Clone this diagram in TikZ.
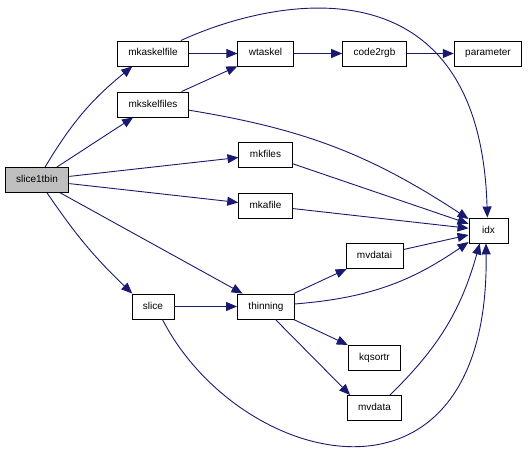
\documentclass[tikz,border=0pt]{standalone}
\usepackage{fontspec}
\setmainfont{Liberation Sans}
\usetikzlibrary{arrows.meta}
\definecolor{MidBlue}{rgb}{0.1,0.1,0.44}

\begin{document}
\begin{tikzpicture}[x=1pt,y=-1pt,
  fn/.style={draw,line width=0.9pt,fill=white,inner xsep=11pt,minimum width=39pt,
    minimum height=25pt,text height=7pt,text depth=2pt,font=\fontsize{10}{12}\selectfont},
  call/.style={MidBlue,line width=0.9pt,-{Triangle[length=11pt,width=9pt]}}]
\useasboundingbox (0,0) rectangle (528,455);
\node[fn,fill=black!25] (slice1tbin) at (37,180) {slice1tbin};
\node[fn] (mkaskelfile) at (153,53.5) {mkaskelfile};
\node[fn] (mkskelfiles) at (153,104.5) {mkskelfiles};
\node[fn] (wtaskel) at (265.5,53.5) {wtaskel};
\node[fn] (code2rgb) at (374.5,53.5) {code2rgb};
\node[fn] (parameter) at (488,53.5) {parameter};
\node[fn] (mkfiles) at (265.5,154.5) {mkfiles};
\node[fn] (mkafile) at (265.5,205.5) {mkafile};
\node[fn] (idx) at (488.5,230.5) {idx};
\node[fn] (mvdatai) at (374.5,256) {mvdatai};
\node[fn] (slice) at (153,306.5) {slice};
\node[fn] (thinning) at (266,306.5) {thinning};
\node[fn] (kqsortr) at (374.5,357.5) {kqsortr};
\node[fn] (mvdata) at (374.5,408) {mvdata};
\draw[call] (slice1tbin.58) to[bend left=10] (mkaskelfile.212);
\draw[call] (slice1tbin) -- (mkskelfiles);
\draw[call] (slice1tbin) -- (mkfiles);
\draw[call] (slice1tbin) -- (mkafile);
\draw[call] (slice1tbin) -- (thinning);
\draw[call] (slice1tbin.308) to[bend right=6] (slice.148);
\draw[call] (mkaskelfile) -- (wtaskel);
\draw[call] (mkaskelfile.25) .. controls (280,-5) and (480,-40) .. (idx.95);
\draw[call] (mkskelfiles) -- (wtaskel);
\draw[call] (mkskelfiles.351) to[bend left=12] (idx.150);
\draw[call] (wtaskel) -- (code2rgb);
\draw[call] (code2rgb) -- (parameter);
\draw[call] (mkfiles) -- (idx);
\draw[call] (mkafile) -- (idx);
\draw[call] (slice) -- (thinning);
\draw[call] (slice.306) .. controls (240,470) and (490,530) .. (idx.259);
\draw[call] (thinning) -- (mvdatai);
\draw[call] (thinning.5) to[bend right=15] (idx.210);
\draw[call] (thinning) -- (kqsortr);
\draw[call] (thinning.306) -- (mvdata.152);
\draw[call] (mvdatai) -- (idx);
\draw[call] (mvdata.40) to[bend right=15] (idx.236);
\end{tikzpicture}
\end{document}
